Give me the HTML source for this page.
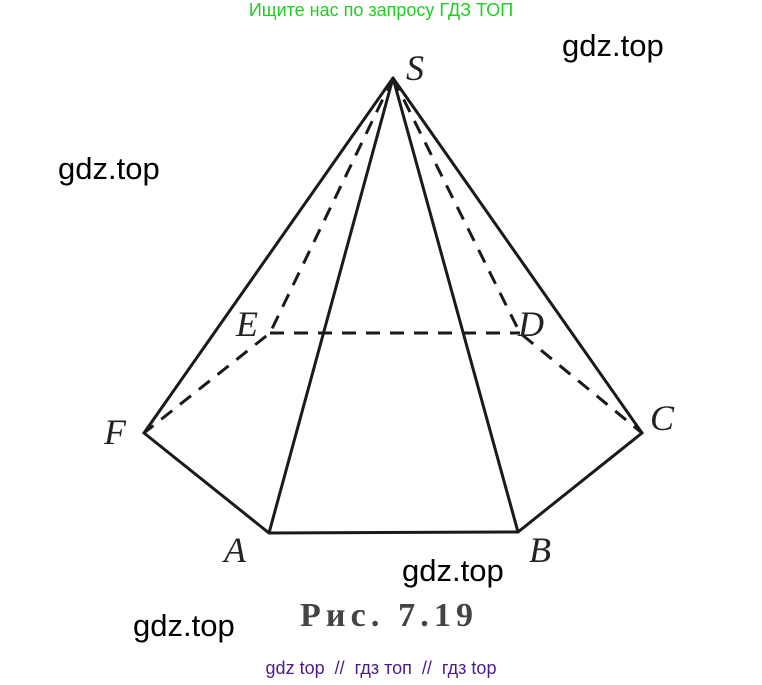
<!DOCTYPE html>
<html><head><meta charset="utf-8"><style>
body{margin:0;background:#fff;width:762px;height:685px;overflow:hidden;position:relative;font-family:"Liberation Sans",sans-serif}
.w{position:absolute;font-size:31px;color:#000}
</style></head><body>
<div style="position:absolute;left:0;width:762px;top:0px;text-align:center;font-size:18px;color:#22cc22">Ищите нас по запросу ГДЗ ТОП</div>
<div class="w" style="left:562px;top:28px">gdz.top</div>
<div class="w" style="left:58px;top:151px">gdz.top</div>
<div class="w" style="left:402px;top:553px">gdz.top</div>
<div class="w" style="left:133px;top:608px">gdz.top</div>
<div style="position:absolute;left:0;width:762px;top:658px;text-align:center;font-size:18px;color:#4b1a8c">gdz top &nbsp;// &nbsp;гдз топ &nbsp;// &nbsp;гдз top</div>
<svg width="762" height="685" style="position:absolute;left:0;top:0">
<g stroke="#1a1a1a" stroke-width="3" fill="none" stroke-linecap="round">
<path d="M393 78L144 433L269 533L518 532L642 433L393 78M393 78L269 533M393 78L518 532"/>
</g>
<g stroke="#1a1a1a" stroke-width="3" fill="none" stroke-dasharray="14 10">
<path d="M393 78L270 333L144 433M393 78L520 333L642 433M270 333L520 333"/>
</g>
<g font-family="Liberation Serif,serif" font-style="italic" font-size="36" fill="#222">
<text x="406" y="80">S</text>
<text x="104" y="444">F</text>
<text x="224" y="562">A</text>
<text x="529" y="562">B</text>
<text x="650" y="430">C</text>
<text x="236" y="336">E</text>
<text x="518" y="336">D</text>
</g>
<text x="300" y="626" font-family="Liberation Serif,serif" font-weight="bold" font-size="34" letter-spacing="5" fill="#444" textLength="178">Рис.  7.19</text>
</svg>
</body></html>
